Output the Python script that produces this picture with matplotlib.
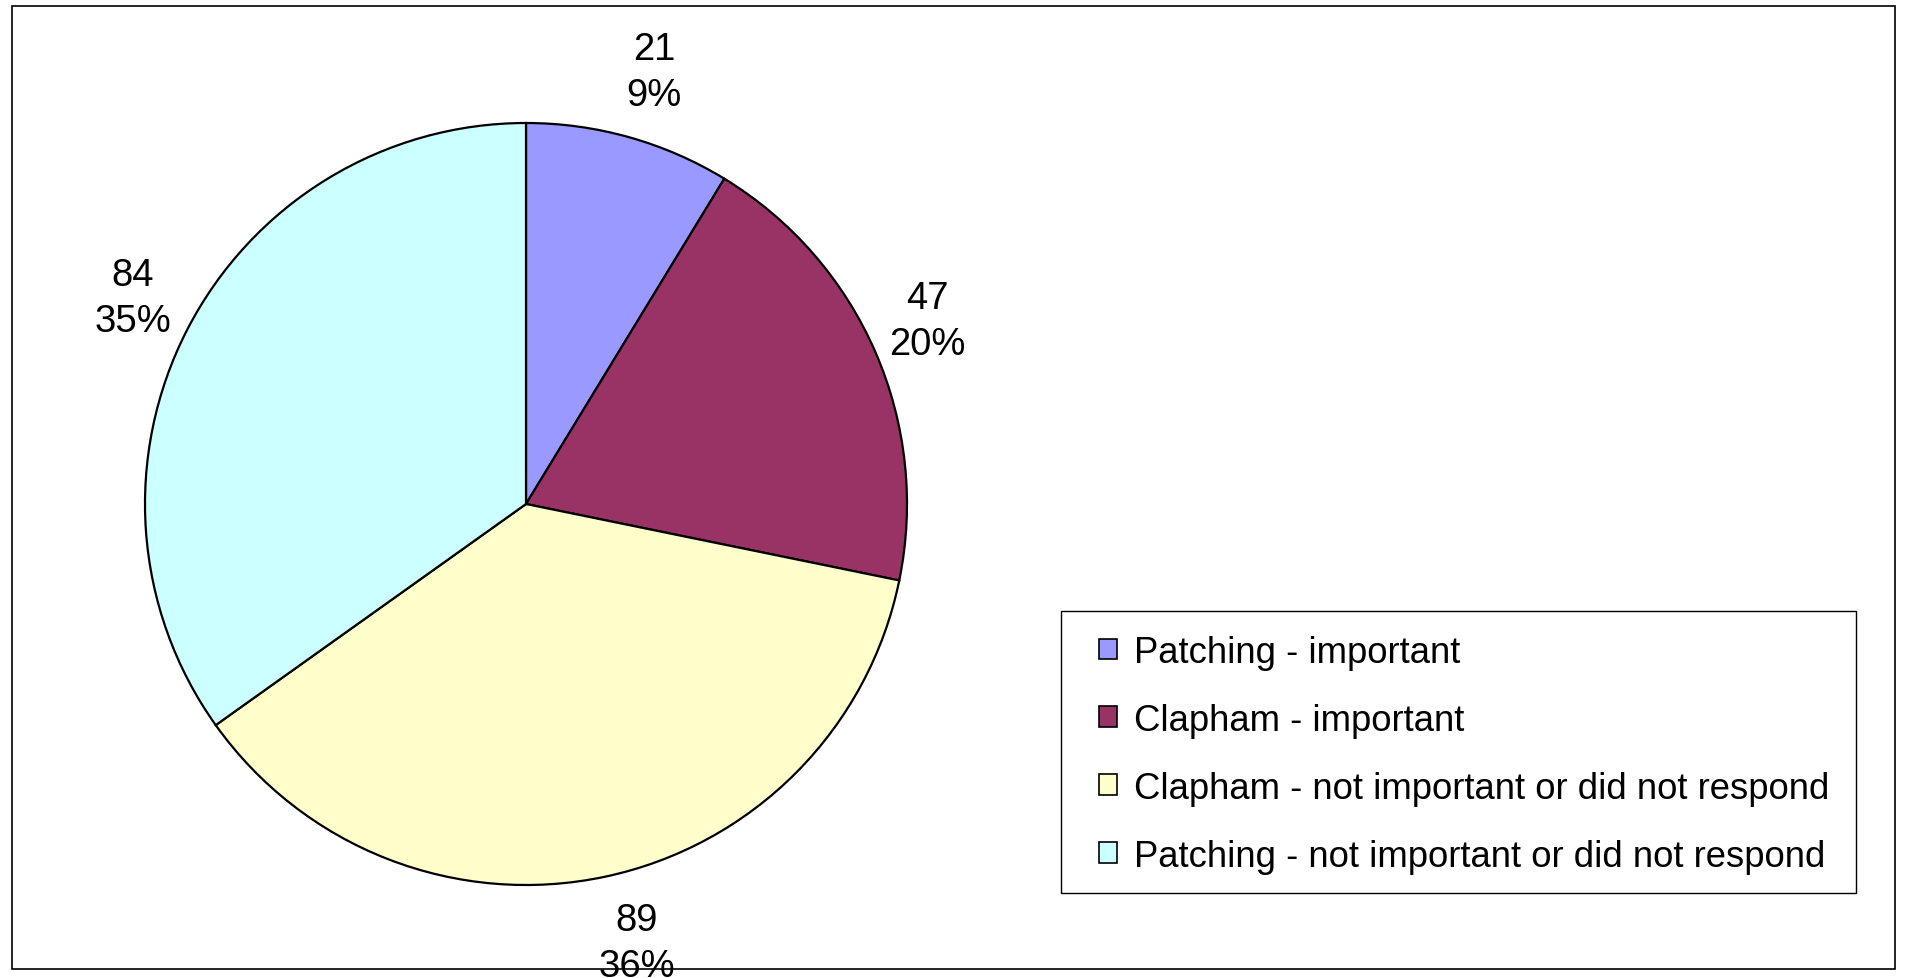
import numpy as np
import matplotlib
matplotlib.use("Agg")
import matplotlib.pyplot as plt
from matplotlib.patches import Patch, Rectangle

categories = ["Patching - important", "Clapham - important",
              "Clapham - not important or did not respond",
              "Patching - not important or did not respond"]
values = [21, 47, 89, 84]
pct_labels = ["9%", "20%", "36%", "35%"]
colors = ["#9999FF", "#993366", "#FFFFCC", "#CCFFFF"]
# label placement (layout): radial distance and small angular nudge (deg)
label_dist = [1.183, 1.157, 1.188, 1.165]
label_nudge = [-0.8, 1.0, 2.2, -0.4]

plt.rcParams['font.family'] = ['Liberation Sans', 'DejaVu Sans']
W, H = 1908, 979
fig = plt.figure(figsize=(W/100, H/100), dpi=100)

cx, cy, R = 526, H - 505, 381
ax = fig.add_axes([(cx - R)/W, (cy - R)/H, 2*R/W, 2*R/H])
wedges, _ = ax.pie(values, colors=colors, startangle=90, counterclock=False,
                   radius=1.0, wedgeprops=dict(edgecolor="black", linewidth=1.6))
ax.set_xlim(-1, 1)
ax.set_ylim(-1, 1)
ax.set_aspect('auto')
ax.axis('off')

for w, v, p, d, n in zip(wedges, values, pct_labels, label_dist, label_nudge):
    th = np.deg2rad((w.theta1 + w.theta2) / 2 + n)
    ax.text(d*np.cos(th), d*np.sin(th), f"{v}\n{p}", ha="center", va="center",
            fontsize=27.5, linespacing=1.34, clip_on=False)

# outer chart border
fig.patches.append(Rectangle((12/W, (H-970)/H), (1895-12)/W, (970-7)/H,
                             transform=fig.transFigure, fill=False,
                             edgecolor="black", linewidth=1.2))
# legend frame
fig.patches.append(Rectangle((1061/W, (H-894)/H), (1856-1061)/W, (894-612)/H,
                             transform=fig.transFigure, fill=False,
                             edgecolor="black", linewidth=1.0))

handles = [Patch(facecolor=c, edgecolor="black", linewidth=1.2) for c in colors]
leg = fig.legend(handles, categories, loc="upper left",
                 bbox_to_anchor=(1099/W, (H-636)/H), frameon=False,
                 fontsize=26.3, handlelength=0.5, handleheight=0.5,
                 handletextpad=0.45, labelspacing=0.9, borderpad=0,
                 borderaxespad=0)

fig.savefig("out.png", dpi=100)
